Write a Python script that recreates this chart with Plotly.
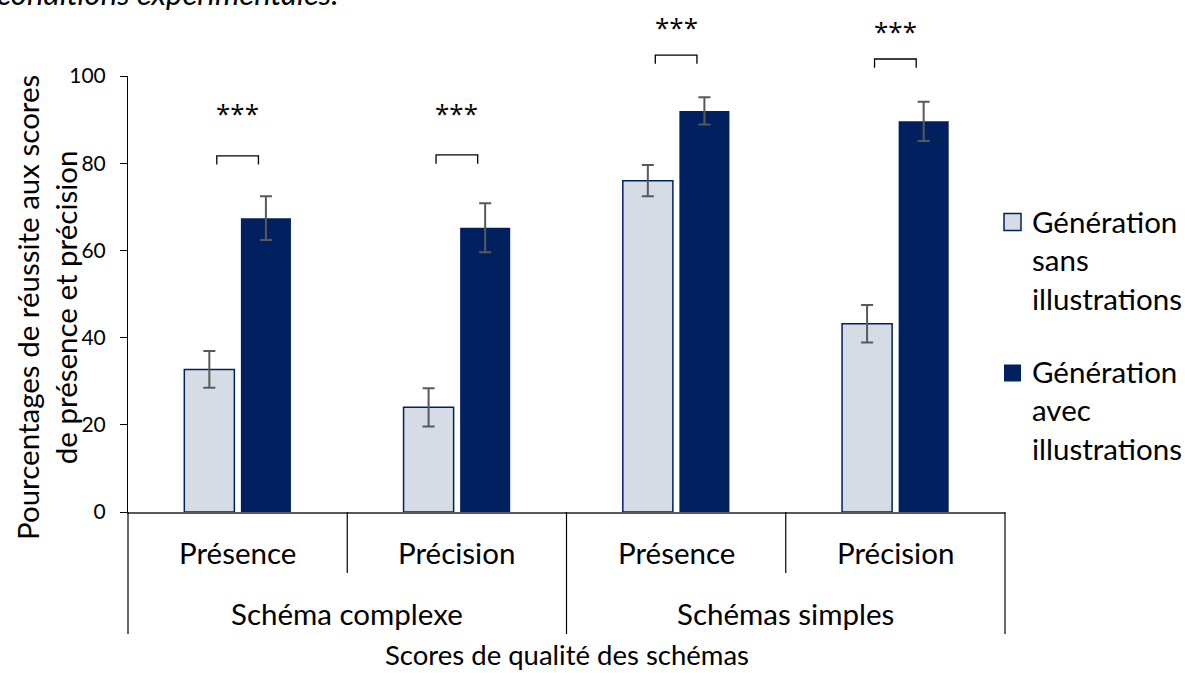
import plotly.graph_objects as go

# ---------------- data ----------------
sous_categories = ["Présence", "Précision", "Présence", "Précision"]
groupes = ["Schéma complexe", "Schémas simples"]
series_noms = ["Génération<br>sans<br>illustrations", "Génération<br>avec<br>illustrations"]
sans_illustrations = [32.7, 24.0, 76.0, 43.2]
sans_erreurs = [4.2, 4.4, 3.6, 4.3]
avec_illustrations = [67.4, 65.2, 92.0, 89.6]
avec_erreurs = [5.0, 5.6, 3.1, 4.5]
significativite = ["***", "***", "***", "***"]
accolade_hauts = [81.7, 81.9, 104.8, 103.9]
etoiles_hauts = [92.7, 92.7, 112.4, 111.5]
y_ticks = [0, 20, 40, 60, 80, 100]
y_titre = "Pourcentages de réussite aux scores<br>de présence et précision"
x_titre = "Scores de qualité des schémas"
texte_haut = "conditions expérimentales."

# ---------------- geometry / style ----------------
W, H = 1185, 673
L, R, T, B = 128, 1005, 76, 512
Y_MAX = 100
FONT = "Lato, Carlito, Calibri, sans-serif"
STAR_FONT = "Open Sans, DejaVu Sans, sans-serif"
CLAIR = "#D6DCE5"
FONCE = "#002060"
GRIS = "#595959"


def px(x):
    return (x - L) / (R - L)


def py(y):
    return (B - y) / (B - T)


xs = list(range(len(sous_categories)))

fig = go.Figure()
fig.add_trace(go.Bar(
    x=xs, y=sans_illustrations, name=series_noms[0],
    marker=dict(color=CLAIR, line=dict(color=FONCE, width=1.5)),
    error_y=dict(type="data", array=sans_erreurs, color=GRIS, thickness=2, width=6),
    showlegend=False,
))
fig.add_trace(go.Bar(
    x=xs, y=avec_illustrations, name=series_noms[1],
    marker=dict(color=FONCE, line=dict(color=FONCE, width=0)),
    error_y=dict(type="data", array=avec_erreurs, color=GRIS, thickness=2, width=6),
    showlegend=False,
))

shapes = []
annotations = []

# significance brackets and stars
for i, (top, star, sy) in enumerate(zip(accolade_hauts, significativite, etoiles_hauts)):
    x0, x1 = xs[i] - 0.095, xs[i] + 0.095
    yt = top / Y_MAX
    yb = (top - 2.0) / Y_MAX
    shapes.append(dict(type="path", xref="x", yref="paper",
                       path=f"M{x0},{yb} L{x0},{yt} L{x1},{yt} L{x1},{yb}",
                       line=dict(color="#000000", width=1.3)))
    annotations.append(dict(x=xs[i], xref="x", y=sy / Y_MAX, yref="paper", yshift=-5,
                            text=star, showarrow=False, xanchor="center", yanchor="middle",
                            font=dict(family=STAR_FONT, size=26, color="#000000")))

# category labels (level 1)
n = len(sous_categories)
for i, lab in enumerate(sous_categories):
    annotations.append(dict(x=(i + 0.5) / n, xref="paper", y=py(552), yref="paper",
                            text=lab, showarrow=False, xanchor="center", yanchor="middle",
                            font=dict(family=FONT, size=29.5, color="#000000")))
# group labels (level 2)
g = len(groupes)
for j, lab in enumerate(groupes):
    annotations.append(dict(x=(j + 0.5) / g, xref="paper", y=py(613), yref="paper",
                            text=lab, showarrow=False, xanchor="center", yanchor="middle",
                            font=dict(family=FONT, size=29.5, color="#000000")))

# dividers
per_group = n // g
for k in range(n + 1):
    full = (k % per_group == 0)
    shapes.append(dict(type="line", xref="paper", yref="paper",
                       x0=k / n, x1=k / n, y0=0, y1=py(634) if full else py(573),
                       line=dict(color="#000000", width=1.2)))

# axis titles
annotations.append(dict(x=0.5, xref="paper", y=py(654), yref="paper", text=x_titre,
                        showarrow=False, xanchor="center", yanchor="middle",
                        font=dict(family=FONT, size=27.5, color="#000000")))
annotations.append(dict(x=px(46), xref="paper", y=py(308), yref="paper", text=y_titre,
                        showarrow=False, xanchor="center", yanchor="middle", textangle=-90,
                        font=dict(family=FONT, size=29.5, color="#000000")))

# manual legend
leg_centers = [(222, 260), (373, 410)]
leg_colors = [(CLAIR, FONCE, 1.5), (FONCE, FONCE, 0)]
for (sw_c, txt_c), name, (fc, lc, lw) in zip(leg_centers, series_noms, leg_colors):
    shapes.append(dict(type="rect", xref="paper", yref="paper",
                       x0=px(1004), x1=px(1021), y0=py(sw_c + 8.5), y1=py(sw_c - 8.5),
                       fillcolor=fc, line=dict(color=lc, width=lw)))
    annotations.append(dict(x=px(1030), xref="paper", y=py(txt_c), yref="paper", text=name,
                            showarrow=False, xanchor="left", yanchor="middle", align="left",
                            font=dict(family=FONT, size=29.5, color="#000000")))

# cut-off caption at the top (as in the source image)
annotations.append(dict(x=px(-5), xref="paper", y=py(14), yref="paper", text=f"<i>{texte_haut}</i>",
                        showarrow=False, xanchor="left", yanchor="bottom",
                        font=dict(family=FONT, size=31, color="#000000")))

fig.update_layout(
    width=W, height=H,
    margin=dict(l=L, r=W - R, t=T, b=H - B, pad=0),
    paper_bgcolor="white", plot_bgcolor="white",
    barmode="group", bargap=0.484, bargroupgap=0.115,
    showlegend=False,
    font=dict(family=FONT, color="#000000"),
    xaxis=dict(range=[-0.5, n - 0.5], showticklabels=False, ticks="", showgrid=False,
               zeroline=False, showline=True, linecolor=GRIS, linewidth=2),
    yaxis=dict(range=[0, Y_MAX], tickvals=y_ticks, ticks="outside", ticklen=7,
               tickcolor="#000000", tickwidth=1, showgrid=False, zeroline=False,
               showline=True, linecolor="#000000", linewidth=1,
               tickfont=dict(family=FONT, size=21, color="#000000"), ticklabelstandoff=10),
    shapes=shapes,
    annotations=annotations,
)

fig.write_html("out.html", config={"displayModeBar": False},
               post_script="document.body.style.margin='0';")
